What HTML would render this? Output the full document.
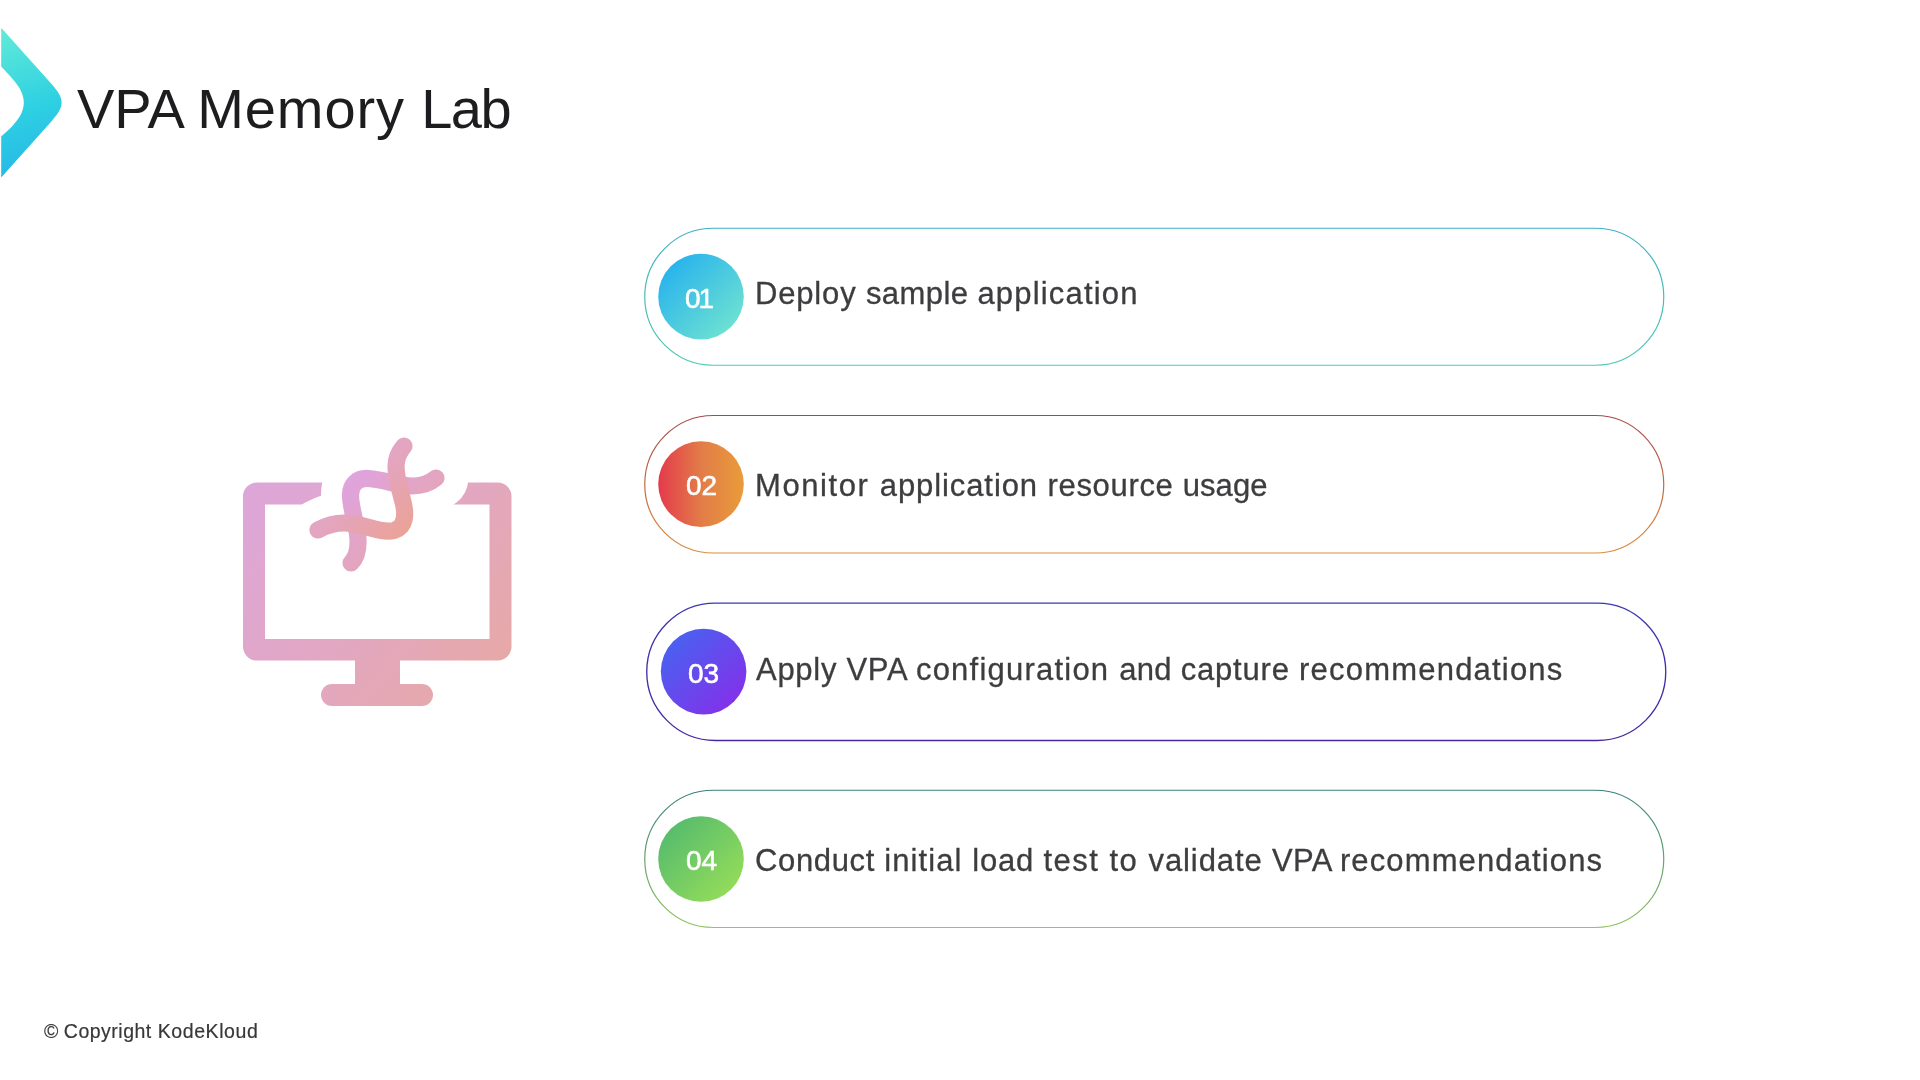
<!DOCTYPE html>
<html lang="en">
<head>
<meta charset="utf-8">
<title>VPA Memory Lab</title>
<style>
  html,body{margin:0;padding:0;background:#fff;}
  body{width:1920px;height:1080px;position:relative;overflow:hidden;font-family:"Liberation Sans",sans-serif;}
  .abs{position:absolute;white-space:pre;line-height:1;will-change:transform;}
  #art{position:absolute;left:0;top:0;}
  #title{font-size:56px;color:#1d1d1f;}
  #footer{font-size:19.5px;color:#383838;-webkit-text-stroke:0.2px #383838;}
  .num{position:absolute;white-space:nowrap;line-height:1;will-change:transform;font-size:28px;color:#fff;-webkit-text-stroke:0.55px #fff;}
  .lbl{position:absolute;white-space:pre;line-height:1;will-change:transform;font-size:31px;color:#3d3d3f;-webkit-text-stroke:0.3px #3d3d3f;}
</style>
</head>
<body>
<svg id="art" width="1920" height="1080" viewBox="0 0 1920 1080">
  <defs>
    <linearGradient id="gLogo" gradientUnits="userSpaceOnUse" x1="0" y1="30" x2="45" y2="175">
      <stop offset="0" stop-color="#62EAD8"/><stop offset="0.55" stop-color="#2ED0E2"/><stop offset="1" stop-color="#25B6E8"/>
    </linearGradient>
    <linearGradient id="gMon" gradientUnits="userSpaceOnUse" x1="243" y1="482" x2="512" y2="706">
      <stop offset="0" stop-color="#DDA6DA"/><stop offset="0.5" stop-color="#E2A7C2"/><stop offset="1" stop-color="#E8A9A0"/>
    </linearGradient>
    <linearGradient id="gDna" x1="0" y1="0" x2="1" y2="1">
      <stop offset="0" stop-color="#DFA3DE"/><stop offset="0.5" stop-color="#E3A5C0"/><stop offset="1" stop-color="#EAA298"/>
    </linearGradient>
        <linearGradient id="p1" gradientUnits="userSpaceOnUse" x1="0" y1="228.25" x2="0" y2="365.25"><stop offset="0" stop-color="#3DB0C6"/><stop offset="1" stop-color="#4FC9B2"/></linearGradient>
    <linearGradient id="p2" gradientUnits="userSpaceOnUse" x1="0" y1="415.5" x2="0" y2="553.0"><stop offset="0" stop-color="#A6474A"/><stop offset="1" stop-color="#DA8E3E"/></linearGradient>
    <linearGradient id="p3" gradientUnits="userSpaceOnUse" x1="0" y1="603.1" x2="0" y2="740.5"><stop offset="0" stop-color="#3B38B2"/><stop offset="1" stop-color="#4826A2"/></linearGradient>
    <linearGradient id="p4" gradientUnits="userSpaceOnUse" x1="0" y1="790.25" x2="0" y2="927.5"><stop offset="0" stop-color="#36807A"/><stop offset="1" stop-color="#94C462"/></linearGradient>
    <linearGradient id="c1" gradientUnits="userSpaceOnUse" x1="670.7" y1="266.3" x2="731.3" y2="326.9"><stop offset="0" stop-color="#2AB4EC"/><stop offset="1" stop-color="#6CE0D2"/></linearGradient>
    <linearGradient id="c2" gradientUnits="userSpaceOnUse" x1="658.2" y1="0" x2="743.8" y2="0"><stop offset="0" stop-color="#E43A4C"/><stop offset="0.5" stop-color="#E27C48"/><stop offset="1" stop-color="#E99C3A"/></linearGradient>
    <linearGradient id="c3" gradientUnits="userSpaceOnUse" x1="673.3" y1="641.3" x2="733.9" y2="701.9"><stop offset="0" stop-color="#4A60F0"/><stop offset="1" stop-color="#8232EA"/></linearGradient>
    <linearGradient id="c4" gradientUnits="userSpaceOnUse" x1="670.7" y1="828.7" x2="731.3" y2="889.3"><stop offset="0" stop-color="#58BD6C"/><stop offset="1" stop-color="#92DB5A"/></linearGradient>
  </defs>

  <!-- logo chevron -->
  <path d="M1.2 27.8 L52 84.5 C58 91.5 61.6 96.5 61.6 102.6 C61.6 108.7 58 113.7 52 120.7 L1.2 177.4 L1.2 136.5 L10 128.5 C18 120.5 23.8 112.5 23.8 102.6 C23.8 92.7 18 84.7 10 76 L1.2 66.5 Z" fill="url(#gLogo)"/>

  <!-- monitor -->
  <g id="monitor" fill="url(#gMon)">
    <path fill-rule="evenodd" d="M257 482.5 H497.5 A14 14 0 0 1 511.5 496.5 V646.5 A14 14 0 0 1 497.5 660.5 H257 A14 14 0 0 1 243 646.5 V496.5 A14 14 0 0 1 257 482.5 Z M265 504.5 V639 H489.5 V504.5 Z"/>
    <rect x="355" y="655" width="45" height="35"/>
    <rect x="321" y="684" width="112" height="22" rx="11" ry="11"/>
  </g>
  <!-- dna helix: white clearance, then strands -->
  <g fill="none" stroke-linecap="round" stroke-linejoin="round">
    <g stroke="#fff" stroke-width="62" transform="translate(1.5,0)">
      <path d="M404 446 C399 452 396 458 396 466 C396 478 400 490 403 502 C406 514 406 527 394 530.5 C384 533 372 528 360 525 C348 522 334 521 318 530"/>
      <path d="M436 478 C430 483 422 486 412 486 C400 486 386 480 368 478.5 C358 478 350 484 350.5 496 C351 508 355 520 357.5 534 C359 546 358 556 351 563"/>
    </g>
    <g stroke="url(#gDna)" stroke-width="17.2">
      <path d="M436 478 C430 483 422 486 412 486 C400 486 386 480 368 478.5 C358 478 350 484 350.5 496 C351 508 355 520 357.5 534 C359 546 358 556 351 563"/>
      <path d="M404 446 C399 452 396 458 396 466 C396 478 400 490 403 502 C406 514 406 527 394 530.5 C384 533 372 528 360 525 C348 522 334 521 318 530"/>
    </g>
  </g>

  <!-- pills and number circles -->
    <rect x="644.75" y="228.25" width="1019" height="137.0" rx="68.5" ry="68.5" fill="none" stroke="url(#p1)" stroke-width="1.2"/>
  <rect x="644.75" y="415.5" width="1019" height="137.5" rx="68.75" ry="68.75" fill="none" stroke="url(#p2)" stroke-width="1.2"/>
  <rect x="646.75" y="603.1" width="1019" height="137.4" rx="68.7" ry="68.7" fill="none" stroke="url(#p3)" stroke-width="1.35"/>
  <rect x="644.75" y="790.25" width="1019" height="137.25" rx="68.625" ry="68.625" fill="none" stroke="url(#p4)" stroke-width="1.2"/>
  <circle cx="701.0" cy="296.6" r="42.8" fill="url(#c1)"/>
  <circle cx="701.0" cy="484.1" r="42.8" fill="url(#c2)"/>
  <circle cx="703.6" cy="671.6" r="42.8" fill="url(#c3)"/>
  <circle cx="701.0" cy="859.0" r="42.8" fill="url(#c4)"/>
</svg>

<div id="title" class="abs" style="left:76.64px;top:81.40px"><span style="letter-spacing:-0.019px">VPA </span><span style="letter-spacing:0.887px">Memory </span><span style="letter-spacing:-1.591px">Lab</span></div>

<div class="num" style="left:685.31px;top:284.53px;letter-spacing:-2px">01</div>
<div class="num" style="left:685.66px;top:472.43px">02</div>
<div class="num" style="left:687.86px;top:659.83px">03</div>
<div class="num" style="left:686.06px;top:846.83px">04</div>

<div class="lbl" style="left:755.23px;top:278.26px"><span style="letter-spacing:0.832px">Deploy </span><span style="letter-spacing:0.413px">sample </span><span style="letter-spacing:1.195px">application</span></div>
<div class="lbl" style="left:754.87px;top:469.76px"><span style="letter-spacing:1.594px">Monitor </span><span style="letter-spacing:0.914px">application </span><span style="letter-spacing:0.665px">resource </span><span style="letter-spacing:0.043px">usage</span></div>
<div class="lbl" style="left:755.81px;top:654.26px"><span style="letter-spacing:0.723px">Apply </span><span style="letter-spacing:0.697px">VPA </span><span style="letter-spacing:1.222px">configuration </span><span style="letter-spacing:0.299px">and </span><span style="letter-spacing:0.799px">capture </span><span style="letter-spacing:1.202px">recommendations</span></div>
<div class="lbl" style="left:755.43px;top:845.06px"><span style="letter-spacing:0.640px">Conduct </span><span style="letter-spacing:1.089px">initial </span><span style="letter-spacing:0.830px">load </span><span style="letter-spacing:1.451px">test </span><span style="letter-spacing:1.566px">to </span><span style="letter-spacing:0.893px">validate </span><span style="letter-spacing:0.297px">VPA </span><span style="letter-spacing:1.127px">recommendations</span></div>

<div id="footer" class="abs" style="left:44.17px;top:1021.99px"><span style="letter-spacing:0.022px">© </span><span style="letter-spacing:0.499px">Copyright </span><span style="letter-spacing:0.585px">KodeKloud</span></div>
</body>
</html>
